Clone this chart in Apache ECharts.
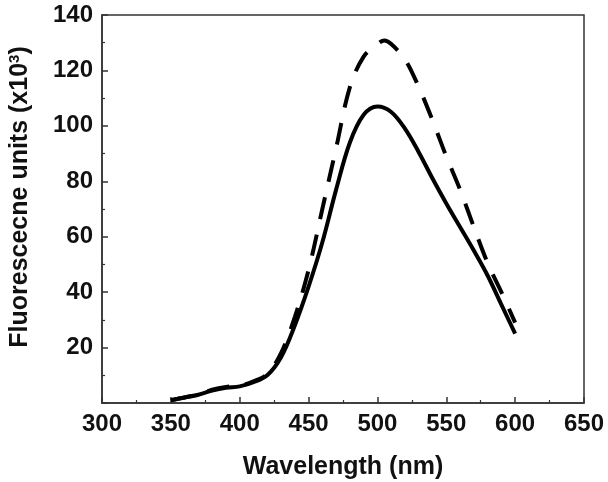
<!DOCTYPE html>
<html>
<head>
<meta charset="utf-8">
<script src="https://cdn.jsdelivr.net/npm/echarts@6/dist/echarts.min.js"></script>
<style>html,body{margin:0;padding:0;background:#fff}#c{width:608px;height:482px}</style>
</head>
<body>
<div id="c"></div>
<script>
var solidWavelengths = [350,360,370,380,390,400,410,420,430,440,450,460,470,480,490,500,510,520,530,540,550,560,570,580,590,600];
var solidValues = [1,2,3,4.5,5.5,6,7.5,10,16.5,28,42,58,77,94,104,107,105,99,90.5,81,72,63.5,55,46,35.5,25];
var dashedWavelengths = [350,360,370,380,390,400,410,420,430,440,450,460,470,480,490,500,505,510,520,530,540,550,560,570,580,590,600];
var dashedValues = [1,2,3,4.8,5.8,6.2,7.8,10.5,18,31,48,70,92,114,125,129.5,130.8,129.5,124,114,102,89,77,63.5,50.5,40,29];
var xTicks = [300,350,400,450,500,550,600,650];
var yTicks = [0,20,40,60,80,100,120,140];

function pairs(xs, ys){ return xs.map(function(x,i){ return [x, ys[i]]; }); }

var chart = echarts.init(document.getElementById('c'), null, {renderer:'canvas'});
var axisColor = '#333';
var ff = 'Liberation Sans, Arial, sans-serif';
var font = {fontFamily:ff, fontWeight:'bold', fontSize:24, color:'#111'};
chart.setOption({
  animation:false,
  backgroundColor:'#fff',
  grid:{left:102, right:24, top:15, bottom:79, show:true, borderColor:axisColor, borderWidth:1.5, containLabel:false, outerBoundsMode:'none'},
  xAxis:{
    type:'value', min:xTicks[0], max:xTicks[xTicks.length-1], interval:50,
    name:'Wavelength (nm)', nameLocation:'middle', nameGap:52,
    nameTextStyle:{fontFamily:ff, fontWeight:'bold', fontSize:25, color:'#111'},
    axisLine:{show:true, lineStyle:{color:axisColor, width:1.5}},
    axisTick:{show:true, inside:true, length:6, lineStyle:{color:axisColor, width:1.5}},
    minorTick:{show:true, splitNumber:2, length:3, lineStyle:{color:axisColor, width:1.2}},
    axisLabel:Object.assign({}, font, {margin:9}),
    splitLine:{show:false}
  },
  yAxis:{
    type:'value', min:yTicks[0], max:yTicks[yTicks.length-1], interval:20,
    name:'Fluorescecne units (x10{s|3})', nameLocation:'middle', nameGap:68, nameRotate:90,
    nameTextStyle:{fontFamily:ff, fontWeight:'bold', fontSize:25, color:'#111', padding:[0,0,0,24],
      rich:{s:{fontFamily:ff, fontWeight:'bold', fontSize:15, color:'#111', verticalAlign:'top', padding:[0,0,12,0]}}},
    axisLine:{show:true, lineStyle:{color:axisColor, width:1.5}},
    axisTick:{show:true, inside:true, length:6, lineStyle:{color:axisColor, width:1.5}},
    minorTick:{show:true, splitNumber:2, length:3, lineStyle:{color:axisColor, width:1.2}},
    axisLabel:Object.assign({}, font, {margin:9, formatter:function(v){ return v===0 ? '' : String(v); }}),
    splitLine:{show:false}
  },
  series:[
    {type:'line', data:pairs(solidWavelengths, solidValues), smooth:0.35, showSymbol:false, symbol:'none',
     lineStyle:{color:'#000', width:4, type:'solid'}},
    {type:'line', data:pairs(dashedWavelengths, dashedValues), smooth:0.35, showSymbol:false, symbol:'none',
     lineStyle:{color:'#000', width:4, type:[22,16]}}
  ]
});
</script>
</body>
</html>
